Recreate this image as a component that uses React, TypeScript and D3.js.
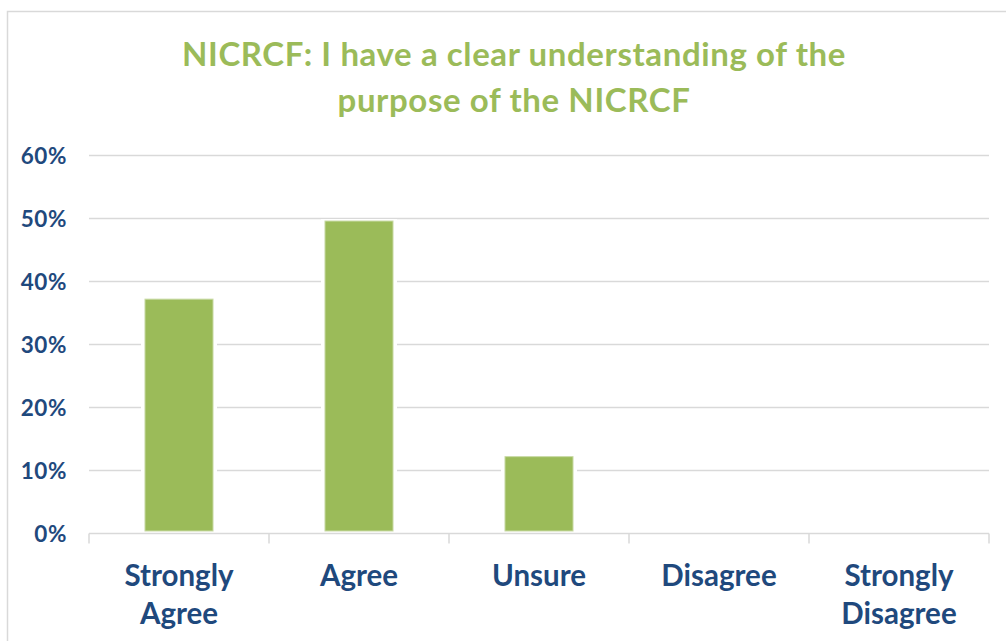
import React from "react";
import * as d3 from "d3";

const categories: string[][] = [
  ["Strongly", "Agree"],
  ["Agree"],
  ["Unsure"],
  ["Disagree"],
  ["Strongly", "Disagree"],
];
const values: number[] = [0.372, 0.496, 0.122, 0, 0];
const yTicks: number[] = [0, 0.1, 0.2, 0.3, 0.4, 0.5, 0.6];
const titleLines: string[] = [
  "NICRCF: I have a clear understanding of the",
  "purpose of the NICRCF",
];

const W = 1006;
const H = 641;
const left = 89;
const right = 989;
const y0px = 533.5;
const yTopPx = 155.5;
const font = "Lato, 'Open Sans', sans-serif";
const green = "#9BBB59";
const blue = "#1F497D";
const grid = "#D9D9D9";

export default function App() {
  const keys = categories.map((c) => c.join(" "));
  const x = d3
    .scaleBand<string>()
    .domain(keys)
    .range([left, right])
    .paddingInner(0.622)
    .paddingOuter(0.311);
  const y = d3.scaleLinear().domain([0, 0.6]).range([y0px, yTopPx]);
  const step = x.step();
  const fmt = d3.format(".0%");

  return (
    <svg
      width={W}
      height={H}
      style={{ position: "absolute", left: 0, top: 0, background: "#fff" }}
    >
      <rect x={7.5} y={11.5} width={1010} height={650} fill="#fff" stroke={grid} strokeWidth={1.5} />
      {titleLines.map((t, i) => (
        <text
          key={i}
          x={514}
          y={66 + i * 45.7}
          textAnchor="middle"
          fontFamily={font}
          fontWeight={700}
          fontSize={33}
          letterSpacing={0.6}
          fill={green}
        >
          {t}
        </text>
      ))}
      {yTicks.map((t) => (
        <g key={t}>
          {t > 0 && (
            <line x1={left} x2={right} y1={y(t)} y2={y(t)} stroke={grid} strokeWidth={1.5} />
          )}
          <text
            x={67}
            y={y(t)}
            dy="0.36em"
            textAnchor="end"
            fontFamily={font}
            fontWeight={700}
            fontSize={22.5}
            letterSpacing={0.6}
            fill={blue}
          >
            {fmt(t)}
          </text>
        </g>
      ))}
      {keys.map((k, i) => {
        const v = values[i];
        if (v <= 0) return null;
        const bx = x(k)!;
        const bw = x.bandwidth();
        return (
          <g key={k}>
            <rect x={bx - 4} y={y(v) - 2} width={bw + 8} height={y0px - 1.5 - (y(v) - 2)} fill="#fff" />
            <rect
              x={bx}
              y={y(v)}
              width={bw}
              height={y0px - 2.5 - y(v)}
              fill={green}
              stroke="#C9DAA6"
              strokeWidth={1}
            />
          </g>
        );
      })}
      <line x1={left} x2={right} y1={y0px} y2={y0px} stroke={grid} strokeWidth={1.5} />
      {d3.range(keys.length + 1).map((i) => (
        <line
          key={i}
          x1={left + i * step}
          x2={left + i * step}
          y1={y0px}
          y2={y0px + 10}
          stroke={grid}
          strokeWidth={1.5}
        />
      ))}
      {keys.map((k, i) => (
        <text
          key={k}
          textAnchor="middle"
          fontFamily={font}
          fontWeight={700}
          fontSize={29.5}
          fill={blue}
        >
          {categories[i].map((line, j) => (
            <tspan key={j} x={x(k)! + x.bandwidth() / 2} y={586 + j * 38}>
              {line}
            </tspan>
          ))}
        </text>
      ))}
    </svg>
  );
}
